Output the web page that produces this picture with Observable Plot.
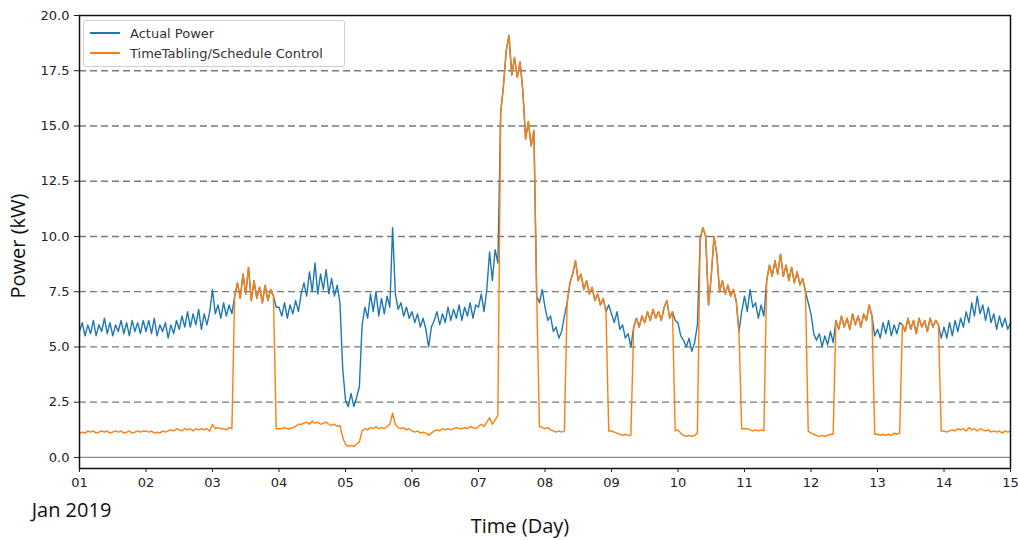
<!DOCTYPE html>
<html>
<head>
<meta charset="utf-8">
<script src="https://cdn.jsdelivr.net/npm/d3@7"></script>
<script src="https://cdn.jsdelivr.net/npm/@observablehq/plot@0.6"></script>
<style>
  html, body { margin: 0; padding: 0; background: #fff; }
  #wrap { position: relative; width: 1018px; height: 540px; }
  #legend {
    position: absolute; left: 83px; top: 20px; width: 262px; height: 47px;
    border: 1px solid #d0d0d0; border-radius: 3px; background: rgba(255,255,255,0.85);
    font-family: "DejaVu Sans", sans-serif; font-size: 13px; color: #333; box-sizing: border-box;
  }
  .item { position: absolute; left: 0; height: 20px; display: flex; align-items: center; }
  .swatch { display: inline-block; width: 30px; height: 0; border-top: 2px solid; margin-left: 6px; margin-right: 10px; }
</style>
</head>
<body>
<div id="wrap">
  <div id="chart"></div>
  <div id="legend">
    <div class="item" style="top:2px"><span class="swatch" style="border-color:#1f77b4"></span><span>Actual Power</span></div>
    <div class="item" style="top:22px"><span class="swatch" style="border-color:#ff7f0e"></span><span>TimeTabling/Schedule Control</span></div>
  </div>
</div>
<script>
// Time grid: hours since 2019-01-01 00:00, hourly through Jan 15 00:00
const hours = d3.range(0, 337);

// Actual Power (kW), 24 hourly values per day
const actualPower = [
  5.7, 6.1, 5.5, 6.0, 5.6, 6.2, 5.5, 6.0, 5.7, 6.3, 5.6, 6.1, 5.5, 6.0, 5.7, 6.2, 5.6, 6.1, 5.5, 6.2, 5.7, 6.1, 5.6, 6.2,          // Jan 01
  5.7, 6.2, 5.6, 6.3, 5.5, 6.0, 5.7, 6.1, 5.4, 6.0, 5.6, 6.2, 5.8, 6.4, 5.9, 6.6, 5.9, 6.5, 6.0, 6.7, 5.8, 6.5, 6.0, 6.6,          // Jan 02
  7.6, 6.5, 6.9, 6.3, 7.0, 6.4, 6.9, 6.5, 7.3, 7.9, 7.2, 8.3, 7.4, 8.6, 7.1, 8.0, 7.2, 7.7, 7.0, 7.8, 7.1, 7.6, 7.3, 6.8,          // Jan 03
  6.8, 6.4, 7.0, 6.3, 6.9, 6.5, 7.1, 6.6, 7.4, 7.9, 7.3, 8.4, 7.5, 8.8, 7.4, 8.3, 7.6, 8.5, 7.4, 8.1, 7.3, 7.8, 7.0, 4.0,          // Jan 04
  2.6, 2.3, 2.9, 2.3, 2.7, 3.2, 6.0, 6.8, 6.3, 7.4, 6.6, 7.5, 6.4, 7.2, 6.5, 7.3, 6.8, 10.4, 7.4, 6.7, 7.0, 6.4, 6.8, 6.3,         // Jan 05
  6.6, 6.1, 6.5, 5.9, 6.3, 5.8, 5.0, 5.9, 6.2, 6.6, 6.0, 6.5, 6.1, 6.8, 6.2, 6.7, 6.3, 6.9, 6.2, 6.8, 6.4, 7.0, 6.3, 6.9,          // Jan 06
  6.8, 7.4, 6.6, 7.6, 9.3, 8.0, 9.4, 8.8, 15.6, 16.8, 18.4, 19.1, 17.3, 18.1, 17.2, 17.9, 16.6, 14.4, 15.2, 14.1, 14.8, 7.3, 7.0, 7.6, // Jan 07
  6.8, 6.2, 6.4, 5.7, 5.9, 5.4, 5.7, 6.4, 7.0, 7.9, 8.3, 8.9, 8.0, 8.3, 7.6, 8.0, 7.4, 7.7, 7.1, 7.4, 6.9, 7.2, 6.6, 6.9,          // Jan 08
  6.5, 6.1, 6.6, 5.8, 6.0, 5.4, 5.6, 5.0, 5.9, 6.3, 5.9, 6.4, 6.1, 6.6, 6.2, 6.7, 6.3, 6.6, 6.2, 6.8, 7.1, 6.3, 6.6, 6.2,          // Jan 09
  6.1, 5.5, 5.3, 5.0, 5.4, 4.8, 5.2, 6.0, 9.9, 10.4, 10.0, 6.9, 8.2, 10.0, 9.2, 7.5, 8.0, 7.4, 7.8, 7.3, 7.6, 7.1, 5.7, 6.6,       // Jan 10
  7.3, 6.6, 7.6, 6.8, 7.0, 6.3, 6.9, 6.4, 8.0, 8.7, 8.2, 8.9, 8.3, 9.2, 8.2, 8.7, 8.0, 8.6, 7.9, 8.4, 7.8, 8.1, 7.5, 7.0,          // Jan 11
  6.5, 5.6, 5.3, 5.6, 5.0, 5.5, 5.1, 5.7, 5.2, 6.2, 5.8, 6.4, 5.9, 6.3, 5.8, 6.5, 6.0, 6.4, 5.9, 6.5, 6.2, 6.9, 6.4, 5.5,          // Jan 12
  5.8, 5.4, 6.1, 5.6, 6.2, 5.5, 6.0, 5.6, 6.1, 6.0, 5.7, 6.3, 5.8, 6.2, 5.6, 6.3, 5.9, 6.2, 5.7, 6.3, 5.9, 6.2, 6.0, 5.4,          // Jan 13
  5.9, 5.4, 6.1, 5.5, 6.2, 5.7, 6.3, 5.9, 6.6, 6.1, 7.0, 6.4, 7.3, 6.5, 6.9, 6.2, 6.8, 6.1, 6.5, 5.8, 6.4, 5.9, 6.3, 5.8,          // Jan 14
  6.1                                                                                                                          // Jan 15 00:00
];

// TimeTabling/Schedule Control (kW), 24 hourly values per day
const scheduleControl = [
  1.1, 1.15, 1.1, 1.2, 1.15, 1.2, 1.1, 1.15, 1.2, 1.15, 1.2, 1.1, 1.15, 1.2, 1.15, 1.2, 1.1, 1.15, 1.2, 1.1, 1.15, 1.2, 1.15, 1.2,   // Jan 01
  1.2, 1.15, 1.2, 1.1, 1.15, 1.1, 1.2, 1.15, 1.2, 1.25, 1.2, 1.3, 1.25, 1.2, 1.3, 1.25, 1.3, 1.2, 1.3, 1.25, 1.3, 1.25, 1.3, 1.2,   // Jan 02
  1.5, 1.3, 1.35, 1.3, 1.3, 1.25, 1.35, 1.3, 7.3, 7.9, 7.2, 8.3, 7.4, 8.6, 7.1, 8.0, 7.2, 7.7, 7.0, 7.8, 7.1, 7.6, 7.3, 1.3,        // Jan 03
  1.3, 1.3, 1.35, 1.3, 1.3, 1.35, 1.4, 1.5, 1.5, 1.55, 1.6, 1.5, 1.65, 1.55, 1.6, 1.5, 1.55, 1.6, 1.5, 1.45, 1.5, 1.4, 1.45, 0.9,   // Jan 04
  0.6, 0.5, 0.55, 0.5, 0.6, 0.7, 1.2, 1.3, 1.25, 1.35, 1.3, 1.4, 1.3, 1.35, 1.3, 1.4, 1.5, 2.0, 1.5, 1.35, 1.3, 1.35, 1.25, 1.3,    // Jan 05
  1.2, 1.15, 1.2, 1.1, 1.15, 1.1, 1.0, 1.1, 1.2, 1.25, 1.2, 1.3, 1.25, 1.3, 1.25, 1.3, 1.35, 1.3, 1.3, 1.35, 1.3, 1.4, 1.35, 1.3,   // Jan 06
  1.4, 1.5, 1.4, 1.6, 1.8, 1.5, 1.7, 1.9, 15.6, 16.8, 18.4, 19.1, 17.3, 18.1, 17.2, 17.9, 16.6, 14.4, 15.2, 14.1, 14.8, 7.3, 1.4, 1.35, // Jan 07
  1.3, 1.35, 1.25, 1.2, 1.15, 1.2, 1.15, 1.2, 7.0, 7.9, 8.3, 8.9, 8.0, 8.3, 7.6, 8.0, 7.4, 7.7, 7.1, 7.4, 6.9, 7.2, 6.6, 1.2,       // Jan 08
  1.2, 1.15, 1.1, 1.05, 1.0, 1.05, 1.0, 1.0, 5.9, 6.3, 5.9, 6.4, 6.1, 6.6, 6.2, 6.7, 6.3, 6.6, 6.2, 6.8, 7.1, 6.3, 6.6, 1.2,        // Jan 09
  1.25, 1.1, 1.0, 0.95, 1.0, 0.95, 1.0, 1.1, 9.9, 10.4, 10.0, 6.9, 8.2, 10.0, 9.2, 7.5, 8.0, 7.4, 7.8, 7.3, 7.6, 7.1, 5.7, 1.3,    // Jan 10
  1.3, 1.3, 1.25, 1.2, 1.25, 1.2, 1.25, 1.2, 8.0, 8.7, 8.2, 8.9, 8.3, 9.2, 8.2, 8.7, 8.0, 8.6, 7.9, 8.4, 7.8, 8.1, 7.5, 1.2,        // Jan 11
  1.1, 1.05, 1.0, 0.95, 1.0, 0.95, 1.0, 1.05, 1.05, 6.2, 5.8, 6.4, 5.9, 6.3, 5.8, 6.5, 6.0, 6.4, 5.9, 6.5, 6.2, 6.9, 6.4, 1.05,    // Jan 12
  1.05, 1.0, 1.05, 1.0, 1.05, 1.0, 1.1, 1.05, 1.1, 6.0, 5.7, 6.3, 5.8, 6.2, 5.6, 6.3, 5.9, 6.2, 5.7, 6.3, 5.9, 6.2, 6.0, 1.2,      // Jan 13
  1.2, 1.15, 1.2, 1.25, 1.2, 1.3, 1.25, 1.3, 1.2, 1.35, 1.25, 1.3, 1.2, 1.3, 1.25, 1.2, 1.25, 1.15, 1.2, 1.15, 1.2, 1.1, 1.2, 1.15, // Jan 14
  1.2                                                                                                                             // Jan 15 00:00
];

// Tick values and labels
const dayTicks = [1, 2, 3, 4, 5, 6, 7, 8, 9, 10, 11, 12, 13, 14, 15];
const dayLabels = ["01", "02", "03", "04", "05", "06", "07", "08", "09", "10", "11", "12", "13", "14", "15"];
const powerTicks = [0, 2.5, 5, 7.5, 10, 12.5, 15, 17.5, 20];
const gridLevels = [2.5, 5, 7.5, 10, 12.5, 15, 17.5];

const rows = hours.map((h, i) => ({day: 1 + h / 24, actual: actualPower[i], schedule: scheduleControl[i]}));

const chart = Plot.plot({
  width: 1018,
  height: 540,
  marginLeft: 79,
  marginRight: 8,
  marginTop: 15,
  marginBottom: 72,
  x: {domain: [1, 15]},
  y: {domain: [-0.5, 20]},
  style: {fontFamily: "DejaVu Sans", fontSize: "13px", color: "#222", background: "#fff", overflow: "visible"},
  marks: [
    Plot.ruleY(gridLevels, {stroke: "#7a7a7a", strokeDasharray: "7,4", strokeWidth: 1.3}),
    Plot.ruleY([0], {stroke: "#8a8a8a", strokeWidth: 1.2}),
    Plot.lineY(rows, {x: "day", y: "actual", stroke: "#1f77b4", strokeWidth: 1.4}),
    Plot.lineY(rows, {x: "day", y: "schedule", stroke: "#ff7f0e", strokeWidth: 1.4}),
    Plot.frame({stroke: "#111", strokeWidth: 1.5}),
    Plot.axisX({ticks: dayTicks, tickFormat: (d) => dayLabels[dayTicks.indexOf(d)], tickSize: 4, tickPadding: 5, label: null, fontSize: 13}),
    Plot.axisY({ticks: powerTicks, tickFormat: d3.format(".1f"), tickSize: 5, tickPadding: 5, label: null, fontSize: 13}),
    Plot.text(["Power (kW)"], {text: (d) => d, frameAnchor: "left", textAnchor: "middle", lineAnchor: "middle", rotate: -90, dx: -61, dy: 4, fontSize: 20, fontFamily: "Open Sans", fill: "#111"}),
    Plot.text(["Time (Day)"], {text: (d) => d, frameAnchor: "bottom", textAnchor: "middle", lineAnchor: "middle", dx: -25, dy: 58, fontSize: 20, fontFamily: "Open Sans", fill: "#111"}),
    Plot.text(["Jan 2019"], {text: (d) => d, frameAnchor: "bottom-left", textAnchor: "middle", lineAnchor: "middle", dx: -8, dy: 42, fontSize: 20, fontFamily: "Open Sans", fill: "#111"})
  ]
});
document.getElementById("chart").appendChild(chart);
</script>
</body>
</html>
